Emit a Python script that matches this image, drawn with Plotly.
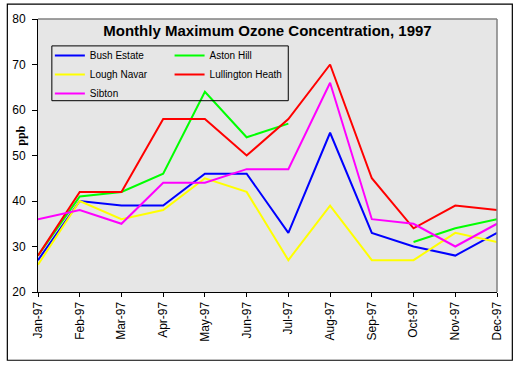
import plotly.graph_objects as go

months = ["Jan-97", "Feb-97", "Mar-97", "Apr-97", "May-97", "Jun-97",
          "Jul-97", "Aug-97", "Sep-97", "Oct-97", "Nov-97", "Dec-97"]

bush_estate = [27, 40, 39, 39, 46, 46, 33, 55, 33, 30, 28, 33]
aston_hill = [28, 41, 42, 46, 64, 54, 57, None, None, 31, 34, 36]
lough_navar = [26, 40, 36, 38, 45, 42, 27, 39, 27, 27, 33, 31]
lullington_heath = [28, 42, 42, 58, 58, 50, 58, 70, 45, 34, 39, 38]
sibton = [36, 38, 35, 44, 44, 47, 47, 66, 36, 35, 30, 35]

y_ticks = [20, 30, 40, 50, 60, 70, 80]

series = [
    ("Bush Estate", bush_estate, "#0000FF", "legend"),
    ("Aston Hill", aston_hill, "#00FF00", "legend2"),
    ("Lough Navar", lough_navar, "#FFFF00", "legend"),
    ("Lullington Heath", lullington_heath, "#FF0000", "legend2"),
    ("Sibton", sibton, "#FF00FF", "legend"),
]

x_idx = list(range(len(months)))

fig = go.Figure()
for name, vals, color, leg in series:
    fig.add_trace(go.Scatter(
        x=x_idx, y=vals, name=name, mode="lines",
        line=dict(color=color, width=2), connectgaps=False,
        legend=leg,
    ))

W, H = 516, 366
L, R, T, B = 34, 18, 18, 74
pw, ph = W - L - R, H - T - B

def px_x(px):
    return (px - L) / pw

def px_y(py):
    return (H - B - py) / ph

font_main = "Arial, Liberation Sans, sans-serif"

fig.update_layout(
    width=W, height=H,
    margin=dict(l=L, r=R, t=T, b=B, pad=0),
    paper_bgcolor="white",
    plot_bgcolor="#E6E6E6",
    font=dict(family=font_main, size=12, color="black"),
    title=dict(
        text="<b>Monthly Maximum Ozone Concentration, 1997</b>",
        font=dict(family=font_main, size=15, color="black"),
        x=0.5, xref="paper", xanchor="center",
        y=1 - 31 / H, yref="container", yanchor="middle",
    ),
    xaxis=dict(
        range=[0, 11], tickmode="array", tickvals=x_idx, ticktext=months,
        tickangle=-90, ticks="outside", ticklen=4, tickcolor="black",
        showline=True, linecolor="black", linewidth=1,
        showgrid=False, zeroline=False,
        tickfont=dict(family=font_main, size=12),
    ),
    yaxis=dict(
        range=[20, 80], tickmode="array", tickvals=y_ticks,
        ticks="outside", ticklen=5, tickcolor="black",
        showline=True, linecolor="black", linewidth=1,
        showgrid=False, zeroline=False, ticklabelstandoff=4,
        tickfont=dict(family=font_main, size=12),
    ),
    xaxis2=dict(
        overlaying="x", anchor="y", side="bottom", range=[0, 11],
        tickmode="array", tickvals=x_idx, ticks="inside", ticklen=3,
        tickcolor="black", showticklabels=False, showgrid=False,
        zeroline=False, showline=False,
    ),
    yaxis2=dict(
        overlaying="y", anchor="x", side="left", range=[20, 80],
        tickmode="array", tickvals=y_ticks, ticks="inside", ticklen=3,
        tickcolor="black", showticklabels=False, showgrid=False,
        zeroline=False, showline=False,
    ),
    legend=dict(
        x=px_x(46), y=px_y(40), xanchor="left", yanchor="top",
        bgcolor="rgba(0,0,0,0)", borderwidth=0,
        font=dict(family=font_main, size=10), itemwidth=30,
        tracegroupgap=0,
    ),
    legend2=dict(
        x=px_x(167), y=px_y(40), xanchor="left", yanchor="top",
        bgcolor="rgba(0,0,0,0)", borderwidth=0,
        font=dict(family=font_main, size=10), itemwidth=30,
        tracegroupgap=0,
    ),
    showlegend=True,
    shapes=[
        # legend frame
        dict(type="rect", xref="paper", yref="paper",
             x0=px_x(48), x1=px_x(287), y0=px_y(100), y1=px_y(45),
             line=dict(color="black", width=1), fillcolor="rgba(0,0,0,0)",
             layer="above"),
        # plot area top and right frame (grey)
        dict(type="line", xref="paper", yref="paper", x0=0, x1=1, y0=1, y1=1,
             line=dict(color="#808080", width=1.5)),
        dict(type="line", xref="paper", yref="paper", x0=1, x1=1, y0=0, y1=1,
             line=dict(color="#808080", width=1.5)),
        # outer chart border
        dict(type="rect", xref="paper", yref="paper",
             x0=px_x(3), x1=px_x(513.5), y0=px_y(360.5), y1=px_y(3),
             line=dict(color="black", width=1.2), fillcolor="rgba(0,0,0,0)"),
    ],
    annotations=[
        dict(text="<b>ppb</b>", textangle=-90, showarrow=False,
             xref="paper", yref="paper", x=px_x(16), y=px_y(135),
             xanchor="center", yanchor="middle",
             font=dict(family="Times New Roman, Liberation Serif, serif",
                       size=12, color="black")),
    ],
)

fig.write_html(
    "out.html",
    config={"displayModeBar": False},
    post_script="document.body.style.margin='0px';document.body.style.overflow='hidden';",
)
